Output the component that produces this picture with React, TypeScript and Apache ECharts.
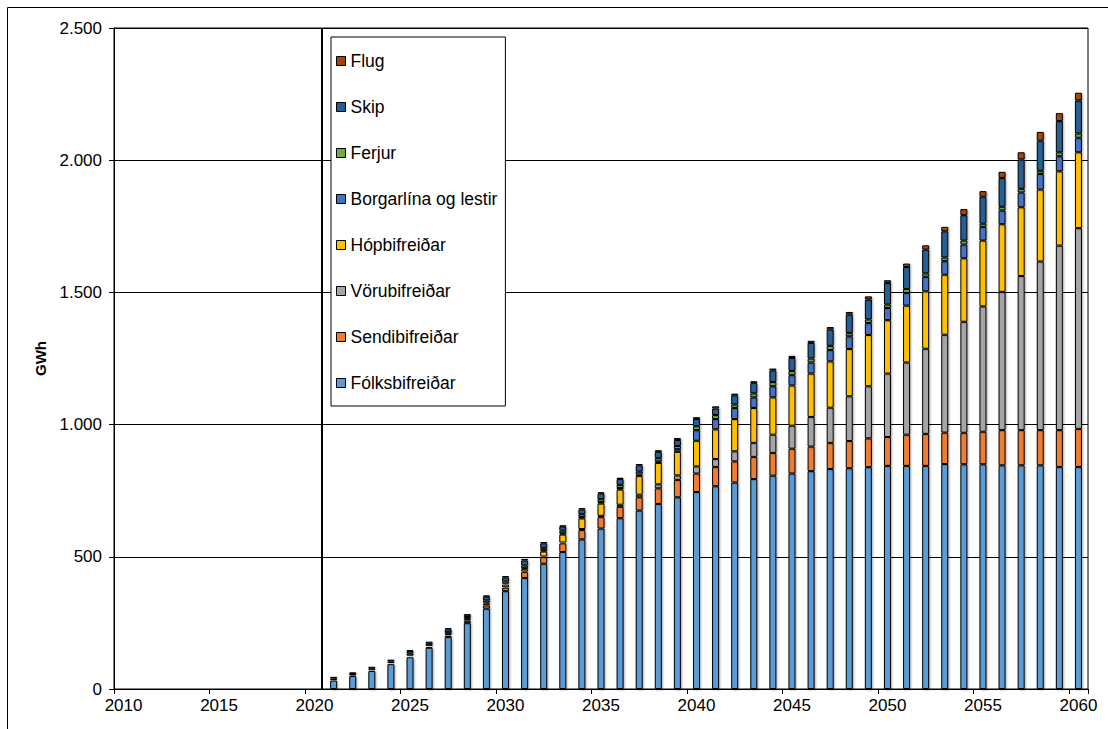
import React, { useEffect, useRef } from 'react';
import * as echarts from 'echarts';

// Category axis: years 2010..2060 (ticks every 5 years)
const years: string[] = Array.from({ length: 51 }, (_, i) => String(2010 + i));
const firstBarYear = 2021;
const dividerYear = 2020.37;

// Values in GWh for 2021..2060
const folksbifreidar = [32, 49, 68, 94, 120, 156, 196, 249, 304, 370, 420, 474, 518, 566, 607, 646, 675, 700, 725, 745, 767, 781, 794, 807, 815, 824, 832, 835, 839, 844, 844, 844, 851, 850, 850, 846, 846, 846, 840, 840];
const sendibifreidar = [1, 1, 2, 2, 3, 4, 6, 9, 12, 13, 22, 25, 33, 35, 43, 43, 50, 59, 66, 70, 73, 80, 84, 86, 94, 93, 99, 103, 109, 109, 118, 121, 119, 119, 123, 133, 133, 133, 139, 144];
const vorubifreidar = [0, 0, 0, 0, 0, 0, 1, 1, 1, 2, 2, 2, 3, 4, 5, 8, 10, 15, 17, 27, 30, 38, 53, 69, 87, 112, 133, 169, 197, 240, 273, 322, 370, 420, 474, 523, 583, 638, 698, 759];
const hopbifreidar = [1, 1, 1, 2, 3, 3, 4, 5, 7, 10, 9, 19, 30, 40, 46, 57, 70, 81, 89, 97, 112, 122, 132, 141, 152, 164, 175, 179, 194, 202, 215, 217, 227, 240, 249, 256, 260, 272, 281, 287];
const borgarlina = [0, 0, 0, 0, 0, 0, 0, 1, 2, 3, 4, 5, 5, 6, 6, 6, 6, 6, 10, 40, 39, 42, 40, 42, 39, 42, 43, 48, 45, 46, 48, 55, 51, 52, 52, 52, 56, 59, 57, 55];
const ferjur = [6, 6, 6, 6, 8, 8, 8, 7, 9, 9, 10, 9, 10, 10, 11, 12, 11, 12, 12, 15, 15, 13, 15, 16, 16, 15, 16, 13, 14, 13, 15, 13, 14, 15, 12, 14, 14, 12, 15, 16];
const skip = [6, 6, 7, 7, 10, 8, 11, 9, 14, 15, 19, 17, 15, 18, 21, 22, 24, 24, 23, 27, 25, 35, 40, 44, 49, 59, 62, 69, 75, 82, 83, 90, 99, 96, 102, 109, 111, 114, 118, 125];
const flug = [3, 3, 3, 3, 4, 3, 4, 4, 5, 5, 6, 5, 5, 5, 5, 5, 5, 6, 7, 7, 8, 6, 6, 7, 8, 8, 9, 10, 12, 10, 13, 16, 17, 23, 21, 23, 27, 33, 30, 29];

const seriesNames = ['Fólksbifreiðar', 'Sendibifreiðar', 'Vörubifreiðar', 'Hópbifreiðar', 'Borgarlína og lestir', 'Ferjur', 'Skip', 'Flug'];
const seriesValues = [folksbifreidar, sendibifreidar, vorubifreidar, hopbifreidar, borgarlina, ferjur, skip, flug];
const seriesColors = ['#5B9BD5', '#ED7D31', '#A5A5A5', '#FFC000', '#4472C4', '#70AD47', '#255E91', '#9E480E'];

const yTicks = { min: 0, max: 2500, interval: 500 };
const FONT = '"Liberation Sans", Arial, sans-serif';

function toCategoryData(values: number[]) {
  return years.map((y) => {
    const idx = Number(y) - firstBarYear;
    return idx >= 0 && idx < values.length ? values[idx] : null;
  });
}

function fmt(v: number) {
  return String(v).replace(/\B(?=(\d{3})+(?!\d))/g, '.');
}

export default function App() {
  const ref = useRef<HTMLDivElement>(null);
  useEffect(() => {
    if (!ref.current) return;
    const chart = echarts.init(ref.current, undefined, { renderer: 'svg' });
    const bars = seriesNames.map((name, i) => ({
      name,
      type: 'bar',
      stack: 'total',
      xAxisIndex: 0,
      yAxisIndex: 0,
      barWidth: 7,
      data: toCategoryData(seriesValues[i]),
      itemStyle: {
        color: seriesColors[i],
        borderColor: '#000',
        borderWidth: 1,
        shadowColor: 'rgba(0,0,0,0.35)',
        shadowBlur: 2,
        shadowOffsetX: 1,
        shadowOffsetY: 1,
      },
    }));
    chart.setOption({
      animation: false,
      backgroundColor: '#fff',
      textStyle: { fontFamily: FONT },
      graphic: [
        {
          type: 'rect',
          silent: true,
          shape: { x: 7.5, y: 7.5, width: 1140, height: 760 },
          style: { fill: 'none', stroke: '#000', lineWidth: 1 },
        },
      ],
      grid: {
        left: 114,
        top: 28,
        right: 20,
        bottom: 40,
        show: true,
        borderColor: '#000',
        borderWidth: 1,
        backgroundColor: '#fff',
      },
      legend: {
        data: seriesNames.slice().reverse(),
        orient: 'vertical',
        left: 331,
        top: 37,
        itemWidth: 9,
        itemHeight: 9,
        itemGap: 28,
        padding: [15, 8, 14, 5],
        backgroundColor: '#fff',
        borderColor: '#000',
        borderWidth: 1,
        borderRadius: 0,
        selectedMode: false,
        icon: 'rect',
        itemStyle: { borderColor: '#000', borderWidth: 1, shadowBlur: 0, shadowOffsetX: 0, shadowOffsetY: 0 },
        textStyle: { fontSize: 17.5, color: '#000', fontFamily: FONT, lineHeight: 17 },
      },
      xAxis: [
        {
          type: 'category',
          data: years,
          boundaryGap: true,
          axisLine: { lineStyle: { color: '#000', width: 1 } },
          axisTick: { show: true, interval: 4, length: 5, lineStyle: { color: '#000' } },
          axisLabel: { interval: 4, fontSize: 17, color: '#000', margin: 8, fontFamily: FONT },
          splitLine: { show: false },
        },
        {
          type: 'value',
          min: 2009.5,
          max: 2060.5,
          show: false,
        },
      ],
      yAxis: {
        type: 'value',
        min: yTicks.min,
        max: yTicks.max,
        interval: yTicks.interval,
        name: 'GWh',
        nameLocation: 'middle',
        nameRotate: 90,
        nameGap: 66,
        nameTextStyle: { fontSize: 15, fontWeight: 'bold', color: '#000', fontFamily: FONT },
        axisLine: { show: true, lineStyle: { color: '#000' } },
        axisTick: { show: true, length: 5, lineStyle: { color: '#000' } },
        axisLabel: { fontSize: 17, color: '#000', margin: 12, formatter: fmt, fontFamily: FONT },
        splitLine: { show: true, lineStyle: { color: '#000', width: 1 } },
      },
      series: [
        ...bars,
        {
          name: 'divider',
          type: 'line',
          xAxisIndex: 1,
          yAxisIndex: 0,
          data: [],
          silent: true,
          markLine: {
            silent: true,
            symbol: ['none', 'none'],
            label: { show: false },
            lineStyle: { color: '#000', width: 2, type: 'solid' },
            data: [{ xAxis: dividerYear }],
          },
        },
      ],
    });
    return () => chart.dispose();
  }, []);
  return <div ref={ref} style={{ position: 'fixed', left: 0, top: 0, width: 1108, height: 729 }} />;
}
